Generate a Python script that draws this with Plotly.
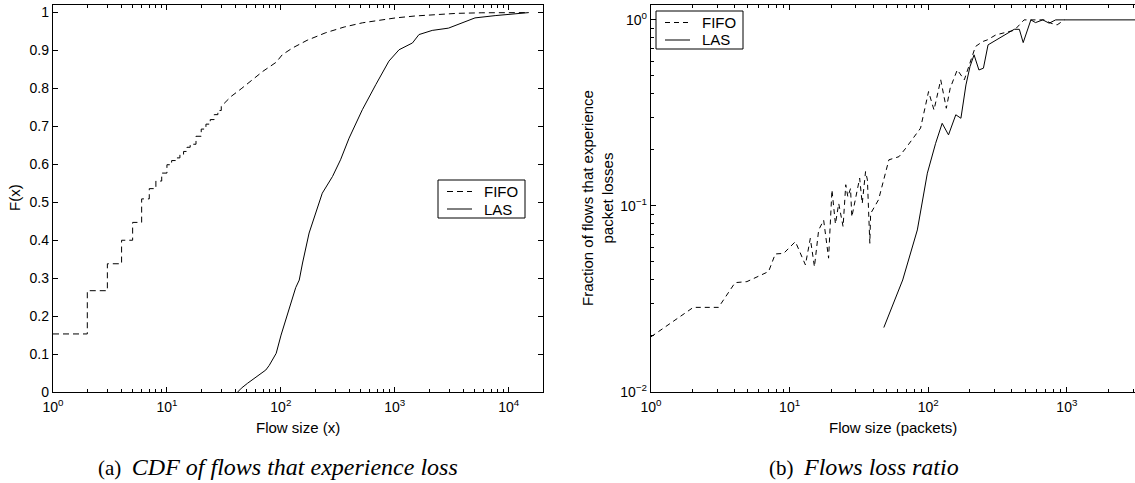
import math
import plotly.graph_objects as go

# ---- (a) CDF of flow sizes for flows that experience loss ----
# FIFO: discrete steps for small flows (size in packets, CDF level after the step)
fifo_step_size = [1, 2, 3, 4, 5, 6, 7, 8, 9, 10, 11, 12, 13, 14, 15, 16, 18, 20, 22, 24, 26, 28, 30]
fifo_step_cdf = [0.153, 0.267, 0.338, 0.400, 0.447, 0.509, 0.536, 0.556, 0.577, 0.599, 0.610,
                 0.617, 0.626, 0.634, 0.645, 0.653, 0.674, 0.693, 0.706, 0.718, 0.731, 0.742, 0.753]
# FIFO: tail of the distribution
fifo_tail_size = [36.6, 44.8, 56.6, 69.4, 90.9, 103, 127, 170, 248, 360, 519, 750, 1016, 1500,
                  2275, 3500, 5820, 9000, 15000]
fifo_tail_cdf = [0.779, 0.799, 0.823, 0.845, 0.869, 0.889, 0.907, 0.927, 0.947, 0.962, 0.973,
                 0.980, 0.986, 0.991, 0.995, 0.998, 0.9995, 1.0, 1.0]

las_size = [41.8, 45, 51, 60.6, 64.6, 73.8, 79, 91, 100.4, 110, 123, 135, 145, 155, 177, 203,
            231, 284, 334, 397, 519, 681, 888, 1090, 1430, 1630, 2130, 2960, 3870, 5060, 7600,
            10600, 15000]
las_cdf = [0.0, 0.010, 0.023, 0.040, 0.045, 0.058, 0.070, 0.102, 0.150, 0.190, 0.240, 0.275,
           0.295, 0.340, 0.419, 0.471, 0.524, 0.568, 0.612, 0.669, 0.744, 0.810, 0.872, 0.902,
           0.920, 0.942, 0.953, 0.959, 0.973, 0.986, 0.992, 0.995, 1.0]

# ---- (b) fraction of flows that experience packet losses ----
fifo_loss_size = [1, 2.02, 3.07, 4.04, 4.92, 7.05, 7.88, 9.06, 11, 13, 14.1, 15.1, 16.2, 17.6,
                  19.1, 20.2, 21.4, 22.6, 24.3, 25.4, 26.3, 27.5, 28.1, 30.3, 32, 33.4, 35.3,
                  36.4, 37.9, 38.4, 43.8, 52, 61.5, 68.7, 88, 100.5, 110, 123, 135, 144, 162,
                  182, 219, 246, 266, 307, 372, 418, 491, 685, 766, 850, 960]
fifo_loss_frac = [0.0198, 0.0285, 0.0285, 0.0387, 0.0392, 0.0444, 0.0552, 0.0556, 0.0643,
                  0.0482, 0.0669, 0.0471, 0.0743, 0.0838, 0.0524, 0.122, 0.080, 0.103, 0.0774,
                  0.130, 0.112, 0.124, 0.0873, 0.117, 0.141, 0.103, 0.153, 0.138, 0.063, 0.091,
                  0.108, 0.177, 0.184, 0.204, 0.262, 0.412, 0.328, 0.476, 0.335, 0.430, 0.539,
                  0.476, 0.719, 0.764, 0.780, 0.830, 0.865, 0.880, 1.0, 1.0, 0.96, 0.94, 1.0]

las_loss_size = [47.8, 65.4, 83.4, 98.5, 113, 126, 140, 158, 172, 187, 200, 214, 232, 250, 270,
                 417, 454, 484, 550, 594, 670, 745, 830, 985, 3100]
las_loss_frac = [0.0222, 0.040, 0.0743, 0.150, 0.217, 0.278, 0.241, 0.309, 0.296, 0.447, 0.561,
                 0.649, 0.538, 0.550, 0.734, 0.890, 0.890, 0.755, 1.0, 0.967, 1.0, 0.960, 1.0,
                 1.0, 1.0]

# tick labels and legend entries
cdf_ticks = [0, 0.1, 0.2, 0.3, 0.4, 0.5, 0.6, 0.7, 0.8, 0.9, 1]
cdf_tick_text = ["0", "0.1", "0.2", "0.3", "0.4", "0.5", "0.6", "0.7", "0.8", "0.9", "1"]
left_decades = [0, 1, 2, 3, 4]
right_decades = [0, 1, 2, 3]
frac_decades = [-2, -1, 0]
series_names = ["FIFO", "LAS"]


def stairs(sizes, levels):
    """Expand an empirical CDF into a staircase path."""
    xs, ys = [], []
    for i, (s, v) in enumerate(zip(sizes, levels)):
        if i > 0:
            xs.append(s)
            ys.append(levels[i - 1])
        xs.append(s)
        ys.append(v)
    return xs, ys


def pow_label(e):
    return "10<sup>%s</sup>" % (str(e) if e >= 0 else "\u2212" + str(-e))


def minor_vals(lo, hi):
    return [m * 10.0 ** d for d in range(lo, hi) for m in range(2, 10)]


fifo_x, fifo_y = stairs(fifo_step_size, fifo_step_cdf)
fifo_x += fifo_tail_size
fifo_y += fifo_tail_cdf

FONT = "Liberation Sans, Arial, sans-serif"
SERIF = "Liberation Serif, Times New Roman, serif"
BLACK = "#000000"
DASH_A = "6px,4px"
DASH_B = "5px,4px"

fig = go.Figure()
fig.add_trace(go.Scatter(x=fifo_x, y=fifo_y, mode="lines", name=series_names[0],
                         line=dict(color=BLACK, width=1, dash=DASH_A), xaxis="x", yaxis="y"))
fig.add_trace(go.Scatter(x=las_size, y=las_cdf, mode="lines", name=series_names[1],
                         line=dict(color=BLACK, width=1), xaxis="x", yaxis="y"))
fig.add_trace(go.Scatter(x=fifo_loss_size, y=fifo_loss_frac, mode="lines", name=series_names[0],
                         line=dict(color=BLACK, width=1, dash=DASH_B), xaxis="x2", yaxis="y2"))
fig.add_trace(go.Scatter(x=las_loss_size, y=las_loss_frac, mode="lines", name=series_names[1],
                         line=dict(color=BLACK, width=1), xaxis="x2", yaxis="y2"))

tick_font = dict(family=FONT, size=14, color=BLACK)
axis_common = dict(showline=True, linecolor=BLACK, linewidth=1.3, ticks="inside",
                   ticklen=5, tickwidth=1, tickcolor=BLACK, showgrid=False, zeroline=False,
                   tickfont=tick_font, automargin=False)
minor_common = dict(ticks="inside", ticklen=3, tickcolor=BLACK, showgrid=False)

W, H = 1135, 483
TOP, BOTTOM = 5, 392
left_l, left_r = 53, 543
right_l, right_r = 651, 1135

fig.update_layout(
    width=W, height=H,
    margin=dict(l=0, r=0, t=TOP, b=H - BOTTOM, autoexpand=False),
    paper_bgcolor="white", plot_bgcolor="white",
    font=dict(family=FONT, color=BLACK),
    showlegend=False,
    xaxis=dict(type="log", range=[0, math.log10(2e4)], domain=[left_l / W, left_r / W],
               tickvals=[10 ** d for d in left_decades],
               ticktext=[pow_label(d) for d in left_decades],
               minor=dict(tickvals=minor_vals(0, 5), **minor_common),
               ticklabelstandoff=2, mirror="ticks", anchor="y", **axis_common),
    yaxis=dict(range=[0, 1.02], tickvals=cdf_ticks, ticktext=cdf_tick_text,
               mirror="ticks", anchor="x", **axis_common),
    xaxis2=dict(type="log", range=[0, math.log10(3100)], domain=[right_l / W, right_r / W],
                tickvals=[10 ** d for d in right_decades],
                ticktext=[pow_label(d) for d in right_decades],
                minor=dict(tickvals=minor_vals(0, 4), **minor_common),
                ticklabelstandoff=2, mirror="ticks", anchor="y2", **axis_common),
    yaxis2=dict(type="log", range=[-2, 0.08], tickvals=[10.0 ** d for d in frac_decades],
                ticktext=[pow_label(d) for d in frac_decades],
                minor=dict(tickvals=minor_vals(-2, 0), **minor_common),
                mirror=False, anchor="x2", **axis_common),
)


def px_x(px):
    return px / W


def px_y(py):
    return (BOTTOM - py) / (BOTTOM - TOP)


annotations = [
    dict(text="Flow size (x)", x=px_x(298), y=px_y(427), font=dict(family=FONT, size=15)),
    dict(text="Flow size (packets)", x=px_x(893), y=px_y(427), font=dict(family=FONT, size=15)),
    dict(text="F(x)", x=px_x(15), y=px_y(198), textangle=-90, font=dict(family=FONT, size=15)),
    dict(text="Fraction of flows that experience<br>packet losses", x=px_x(598), y=px_y(198),
         textangle=-90, font=dict(family=FONT, size=15)),
    dict(text="(a)  <span style='font-size:24px'><i>CDF of flows that experience loss</i></span>",
         x=px_x(278), y=px_y(467), font=dict(family=SERIF, size=21)),
    dict(text="(b)  <span style='font-size:24px'><i>Flows loss ratio</i></span>",
         x=px_x(864), y=px_y(467), font=dict(family=SERIF, size=21)),
]
for a in annotations:
    fig.add_annotation(xref="paper", yref="paper", showarrow=False,
                       xanchor="center", yanchor="middle", **a)

# legend boxes: (left, top) corner of each box in pixels, with the dash of its FIFO curve
legend_boxes = [(438, 180, DASH_A), (656, 11, DASH_B)]
for bx, by, dash in legend_boxes:
    fig.add_shape(type="rect", xref="paper", yref="paper",
                  x0=px_x(bx), x1=px_x(bx + 87), y0=px_y(by), y1=px_y(by + 38),
                  line=dict(color=BLACK, width=1), fillcolor="white", layer="above")
    for k, name in enumerate(series_names):
        ry = by + 11.5 + 17.5 * k
        fig.add_shape(type="line", xref="paper", yref="paper",
                      x0=px_x(bx + 9), x1=px_x(bx + 34), y0=px_y(ry), y1=px_y(ry),
                      line=dict(color=BLACK, width=1, dash=dash if k == 0 else "solid"),
                      layer="above")
        fig.add_annotation(xref="paper", yref="paper", showarrow=False, text=name,
                           x=px_x(bx + 44), y=px_y(ry), xanchor="left", yanchor="middle",
                           font=dict(family=FONT, size=15, color=BLACK))

fig.write_html("out.html")
